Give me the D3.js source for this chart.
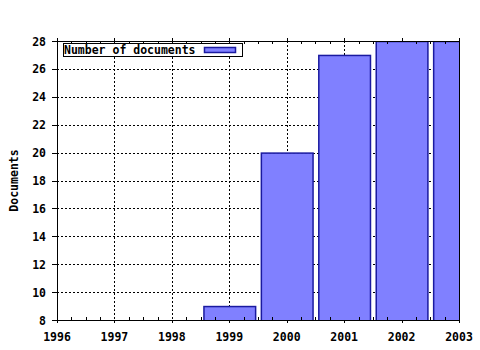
<!DOCTYPE html>
<html><head><meta charset="utf-8">
<script src="https://cdn.jsdelivr.net/npm/d3@7"></script>
<style>body{margin:0;background:#fff}svg{display:block}</style>
</head><body>
<script>
const years = [1999, 2000, 2001, 2002, 2003];
const documents = [9, 20, 27, 28, 28];
const xTicks = [1996, 1997, 1998, 1999, 2000, 2001, 2002, 2003];
const yTicks = [8, 10, 12, 14, 16, 18, 20, 22, 24, 26, 28];
const seriesName = "Number of documents";
const yTitle = "Documents";

const W = 480, H = 350;
const L = 57, R = 459, T = 41, B = 320;
const font = "'DejaVu Sans Mono', monospace";
const svg = d3.select("body").append("svg").attr("width", W).attr("height", H);
const x = d3.scaleLinear().domain([1996, 2003]).range([L, R]);
const y = d3.scaleLinear().domain([8, 28]).range([B, T]);

svg.append("defs").append("clipPath").attr("id", "clip")
  .append("rect").attr("x", L).attr("y", T).attr("width", R - L).attr("height", B - T);

// grid
const grid = svg.append("g").attr("stroke", "#000").attr("stroke-width", 1)
  .attr("stroke-dasharray", "2,2").attr("shape-rendering", "crispEdges");
xTicks.slice(1, -1).forEach(v => grid.append("line")
  .attr("x1", Math.round(x(v)) + 0.5).attr("x2", Math.round(x(v)) + 0.5).attr("y1", T).attr("y2", B));
yTicks.slice(1, -1).forEach(v => grid.append("line")
  .attr("y1", Math.round(y(v)) + 0.5).attr("y2", Math.round(y(v)) + 0.5).attr("x1", L).attr("x2", R));

// bars
const bw = 0.9;
svg.append("g").attr("clip-path", "url(#clip)")
  .selectAll("rect").data(years).join("rect")
  .attr("x", d => x(d - bw / 2) + 0.5)
  .attr("width", d => x(d + bw / 2) - x(d - bw / 2))
  .attr("y", (d, i) => y(documents[i]) + 0.5)
  .attr("height", (d, i) => y(8) - y(documents[i]) + 2)
  .attr("fill", "#8080ff").attr("stroke", "#1a1aa0").attr("stroke-width", 1.5);

// axes
const minor = d3.range(1996, 2003.001, 0.25);
const ax = svg.append("g").attr("stroke", "#000").attr("stroke-width", 1).attr("shape-rendering", "crispEdges");
ax.append("line").attr("x1", L + 0.5).attr("x2", L + 0.5).attr("y1", T - 3).attr("y2", B + 3);
ax.append("line").attr("x1", R + 0.5).attr("x2", R + 0.5).attr("y1", T - 3).attr("y2", B + 3);
ax.append("line").attr("x1", L - 5).attr("x2", R + 1).attr("y1", B + 0.5).attr("y2", B + 0.5);
ax.append("line").attr("x1", L - 5).attr("x2", R + 1).attr("y1", T + 0.5).attr("y2", T + 0.5);
minor.forEach(v => {
  const px = Math.round(x(v)) + 0.5;
  const major = Math.abs(v - Math.round(v)) < 1e-6;
  if (major) {
    ax.append("line").attr("x1", px).attr("x2", px).attr("y1", B).attr("y2", B + 3);
    ax.append("line").attr("x1", px).attr("x2", px).attr("y1", T - 3).attr("y2", T);
  } else {
    ax.append("line").attr("x1", px).attr("x2", px).attr("y1", B - 3).attr("y2", B);
    ax.append("line").attr("x1", px).attr("x2", px).attr("y1", T).attr("y2", T + 3);
  }
});
yTicks.forEach(v => {
  const py = Math.round(y(v)) + 0.5;
  ax.append("line").attr("x1", L - 5).attr("x2", L).attr("y1", py).attr("y2", py);
});

// tick labels
svg.append("g").selectAll("text").data(xTicks).join("text")
  .attr("x", d => x(d)).attr("y", 341).attr("text-anchor", "middle")
  .attr("font-family", font).attr("font-weight", "bold").attr("font-size", "11.5px").text(d => d);
svg.append("g").selectAll("text").data(yTicks).join("text")
  .attr("x", 46).attr("y", d => y(d) + 4.5).attr("text-anchor", "end")
  .attr("font-family", font).attr("font-weight", "bold").attr("font-size", "11.5px").text(d => d);

svg.append("text").attr("transform", `translate(18,${(T + B) / 2}) rotate(-90)`)
  .attr("text-anchor", "middle").attr("font-family", font).attr("font-weight", "bold")
  .attr("font-size", "11.5px").text(yTitle);

// legend
const lg = svg.append("g");
lg.append("rect").attr("x", 63.5).attr("y", 43.5).attr("width", 179).attr("height", 13)
  .attr("fill", "#fff").attr("stroke", "#000").attr("stroke-width", 1);
lg.append("text").attr("x", 64).attr("y", 54).attr("font-family", font).attr("font-weight", "bold")
  .attr("font-size", "11.5px").text(seriesName);
lg.append("rect").attr("x", 204.5).attr("y", 47.5).attr("width", 31).attr("height", 5)
  .attr("fill", "#8080ff").attr("stroke", "#1a1aa0").attr("stroke-width", 1.5);
</script>
</body></html>
